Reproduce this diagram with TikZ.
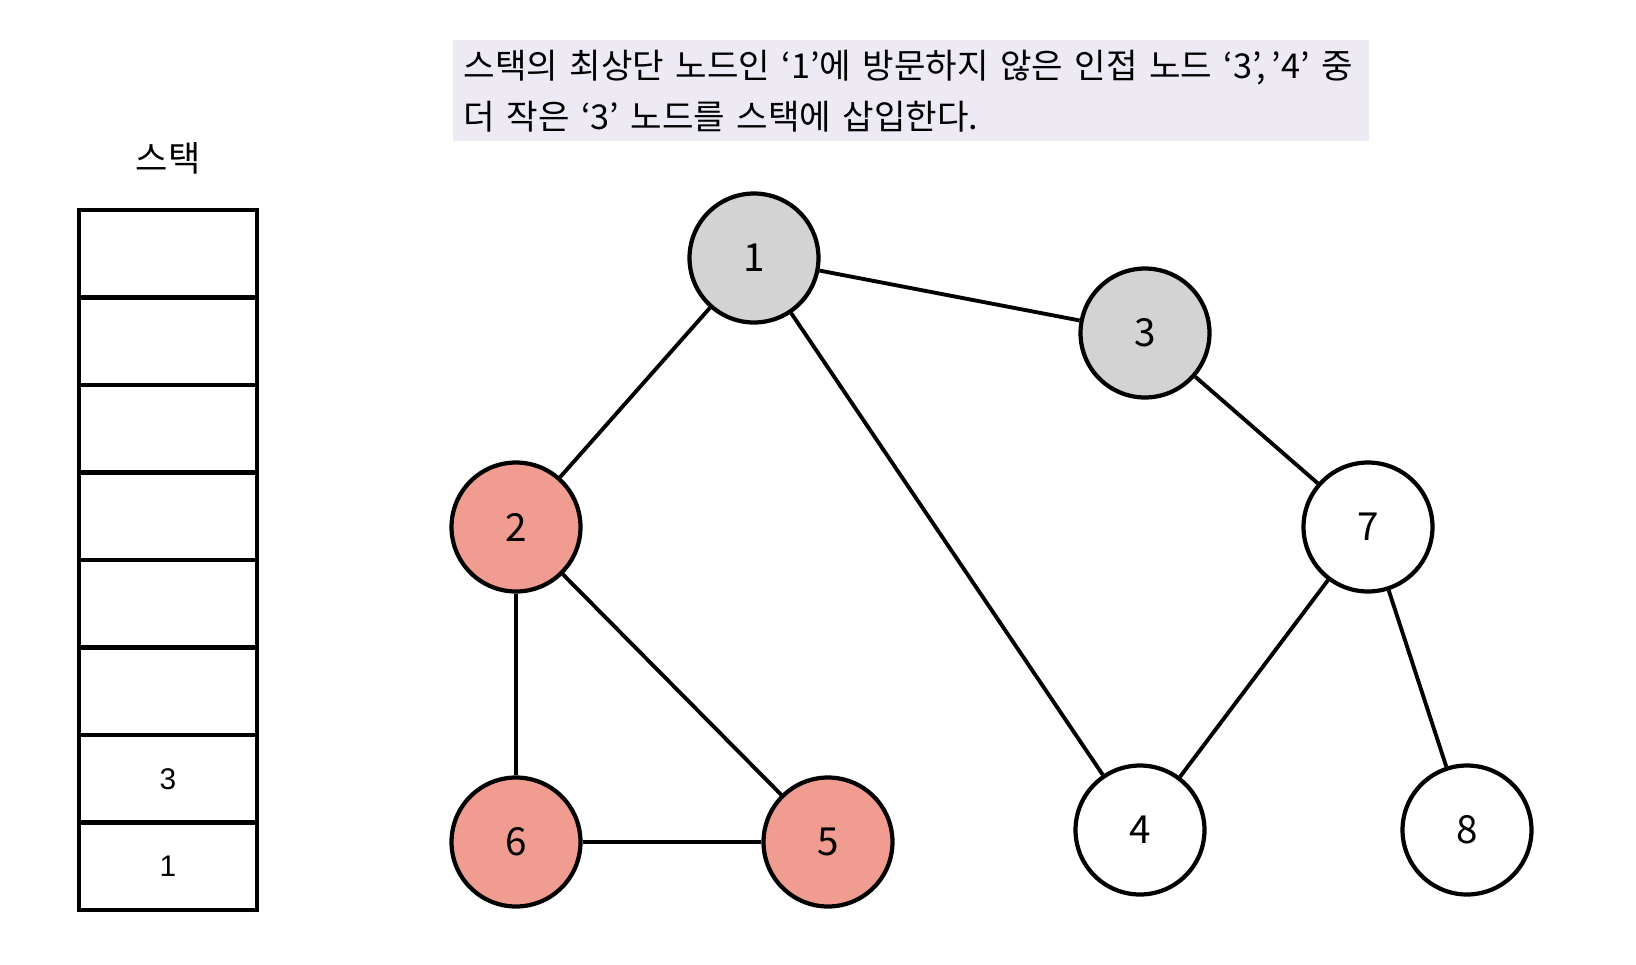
\documentclass[tikz,border=0pt]{standalone}
\usepackage{fontspec}
\setmainfont{Noto Sans CJK KR}
\newfontfamily\digitfont{Liberation Sans}
\usetikzlibrary{positioning}
\definecolor{visited}{HTML}{D3D3D3}
\definecolor{instack}{HTML}{F19C90}
\definecolor{notebg}{HTML}{EDEAF4}
\tikzset{vtx/.style={circle,draw=black,line width=2.4pt,minimum size=2.58cm,inner sep=0pt,font=\fontsize{22}{22}\selectfont},edge/.style={line width=2.2pt},cell/.style={draw=black,line width=2.3pt,minimum width=3.56cm,minimum height=1.75cm,outer sep=0pt,inner sep=0pt,font=\digitfont\fontsize{17}{17}\selectfont}}

\begin{document}
\begin{tikzpicture}[x=0.02cm,y=-0.02cm]
\useasboundingbox (0,0) rectangle (1636,964);
% note
\node[fill=notebg,anchor=north west,text width=17.9cm,minimum height=2.02cm,inner xsep=6pt,inner ysep=4pt,align=left,font=\fontsize{19.5}{29}\selectfont] (note) at (453,40) {스택의 최상단 노드인 ‘1’에 방문하지 않은 인접 노드 ‘3’,\,’4’ 중\\더 작은 ‘3’ 노드를 스택에 삽입한다.};
% stack
\node[font=\fontsize{20}{20}\selectfont] (title) at (168,158) {스택};
\foreach \i in {1,...,8}
  \node[cell] (cell\i) at (168,{210+87.5*(\i-0.5)}) {};
\node[font=\digitfont\fontsize{17}{17}\selectfont] at (cell7) {3};
\node[font=\digitfont\fontsize{17}{17}\selectfont] at (cell8) {1};
% graph
\node[vtx,fill=visited] (n1) at (754,258) {1};
\node[vtx,fill=visited] (n3) at (1145,333) {3};
\node[vtx,fill=instack] (n2) at (516,527) {2};
\node[vtx] (n7) at (1368,527) {7};
\node[vtx,fill=instack] (n6) at (516,842) {6};
\node[vtx,fill=instack] (n5) at (828,842) {5};
\node[vtx] (n4) at (1140,830) {4};
\node[vtx] (n8) at (1467,830) {8};
\draw[edge] (n1)--(n3);
\draw[edge] (n1)--(n2);
\draw[edge] (n1)--(n4);
\draw[edge] (n3)--(n7);
\draw[edge] (n2)--(n6);
\draw[edge] (n2)--(n5);
\draw[edge] (n6)--(n5);
\draw[edge] (n7)--(n4);
\draw[edge] (n7)--(n8);
\end{tikzpicture}
\end{document}
